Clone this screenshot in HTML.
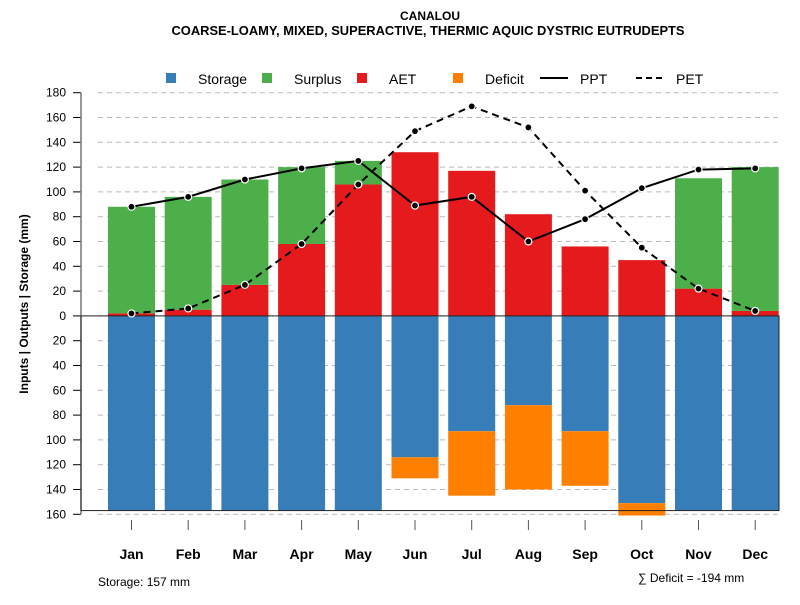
<!DOCTYPE html>
<html><head><meta charset="utf-8"><style>
body{margin:0;background:#fff;font-family:"Liberation Sans",sans-serif}
</style></head><body>
<svg id="c" width="800" height="600" xmlns="http://www.w3.org/2000/svg" font-family="Liberation Sans, sans-serif">
<text x="430" y="20" text-anchor="middle" font-size="12" font-weight="bold">CANALOU</text>
<text x="428" y="35" text-anchor="middle" font-size="12.9" font-weight="bold">COARSE-LOAMY, MIXED, SUPERACTIVE, THERMIC AQUIC DYSTRIC EUTRUDEPTS</text>
<g id="legend" font-size="14">
<g><rect x="166" y="73" width="10" height="10" fill="#377eb8"/><text x="198" y="84">Storage</text></g>
<g><rect x="262" y="73" width="10" height="10" fill="#4daf4a"/><text x="294" y="84">Surplus</text></g>
<g><rect x="357" y="73" width="10" height="10" fill="#e41a1c"/><text x="389" y="84">AET</text></g>
<g><rect x="453" y="73" width="10" height="10" fill="#ff7f00"/><text x="485" y="84">Deficit</text></g>
<g><line x1="540" y1="78" x2="568" y2="78" stroke="#000" stroke-width="2"/><text x="580" y="84">PPT</text></g>
<g><line x1="636" y1="78" x2="664" y2="78" stroke="#000" stroke-width="2" stroke-dasharray="6,4"/><text x="676" y="84">PET</text></g>
</g>
<text transform="translate(28,304) rotate(-90)" text-anchor="middle" font-size="12" font-weight="bold">Inputs | Outputs | Storage    (mm)</text>
<text x="98" y="586" font-size="12">Storage: 157 mm</text>
<text x="638" y="582" font-size="12">∑ Deficit = -194 mm</text>
<g id="grid"></g><g id="bars"></g><g id="axes"></g><g id="lines"></g>
</svg>
<script>
const months=["Jan","Feb","Mar","Apr","May","Jun","Jul","Aug","Sep","Oct","Nov","Dec"];
const aet=[2,5,25,58,106,132,117,82,56,45,22,4];
const surplus=[86,91,85,62,19,0,0,0,0,0,89,116];
const storage=[157,157,157,157,157,114,93,72,93,151,157,157];
const deficit=[0,0,0,0,0,17,52,68,44,10,0,0];
const ppt=[88,96,110,119,125,89,96,60,78,103,118,119];
const pet=[2,6,25,58,106,149,169,152,101,55,22,4];
const yTicks=[180,160,140,120,100,80,60,40,20,0,20,40,60,80,100,120,140,160];
const yVals=[180,160,140,120,100,80,60,40,20,0,-20,-40,-60,-80,-100,-120,-140,-160];
const NS="http://www.w3.org/2000/svg";
const y=v=>315.9-v*1.24;
const xc=i=>131.5+i*56.7;
const bw=47;
function mk(t,a,p){const e=document.createElementNS(NS,t);for(const k in a)e.setAttribute(k,a[k]);document.getElementById(p).appendChild(e);return e;}
yVals.forEach((v,i)=>{
 const g=mk('line',{x1:98,x2:780,y1:y(v),y2:y(v),stroke:'#bbb','stroke-dasharray':'5,4'},'grid');
 
 
 const t=mk('line',{x1:73,x2:81,y1:y(v),y2:y(v),stroke:'#000'},'axes');
 
 
 const l=mk('text',{x:66,y:y(v)+4,'text-anchor':'end','font-size':12},'axes');
 l.textContent=yTicks[i];
 
 
});
const ax=mk('line',{x1:81,x2:81,y1:y(180),y2:y(-160),stroke:'#777','stroke-width':1.5},'axes');


months.forEach((m,i)=>{
 const x0=xc(i)-bw/2;
 const r1=mk('rect',{x:x0,y:y(aet[i]),width:bw,height:aet[i]*1.24,fill:'#e41a1c'},'bars');
 
 
 const r2=mk('rect',{x:x0,y:y(aet[i]+surplus[i]),width:bw,height:surplus[i]*1.24,fill:'#4daf4a'},'bars');
 
 
 const r3=mk('rect',{x:x0,y:y(0),width:bw,height:storage[i]*1.24,fill:'#377eb8'},'bars');
 
 
 const r4=mk('rect',{x:x0,y:y(-storage[i]),width:bw,height:deficit[i]*1.24,fill:'#ff7f00'},'bars');
 
 
 const t=mk('line',{x1:xc(i),x2:xc(i),y1:520,y2:530,stroke:'#555'},'axes');
 
 
 const l=mk('text',{x:xc(i),y:559,'text-anchor':'middle','font-size':14,'font-weight':'bold'},'axes');
 l.textContent=m;
 
 
});
const bx=mk('rect',{x:81,y:y(0),width:698,height:157*1.24,fill:'none',stroke:'#222','stroke-width':1},'axes');


function series(arr,name,dash){
 const p=mk('polyline',{points:arr.map((v,i)=>xc(i)+','+y(v)).join(' '),fill:'none',stroke:'#000','stroke-width':2,'stroke-dasharray':dash},'lines');
 
 
 arr.forEach((v,i)=>{
  const c=mk('circle',{cx:xc(i),cy:y(v),r:3.5,fill:'#000',stroke:'#fff','stroke-width':1.2},'lines');
  
  
 });
}
series(pet,'pet','7,5');
series(ppt,'ppt','none');
</script>
</body></html>
